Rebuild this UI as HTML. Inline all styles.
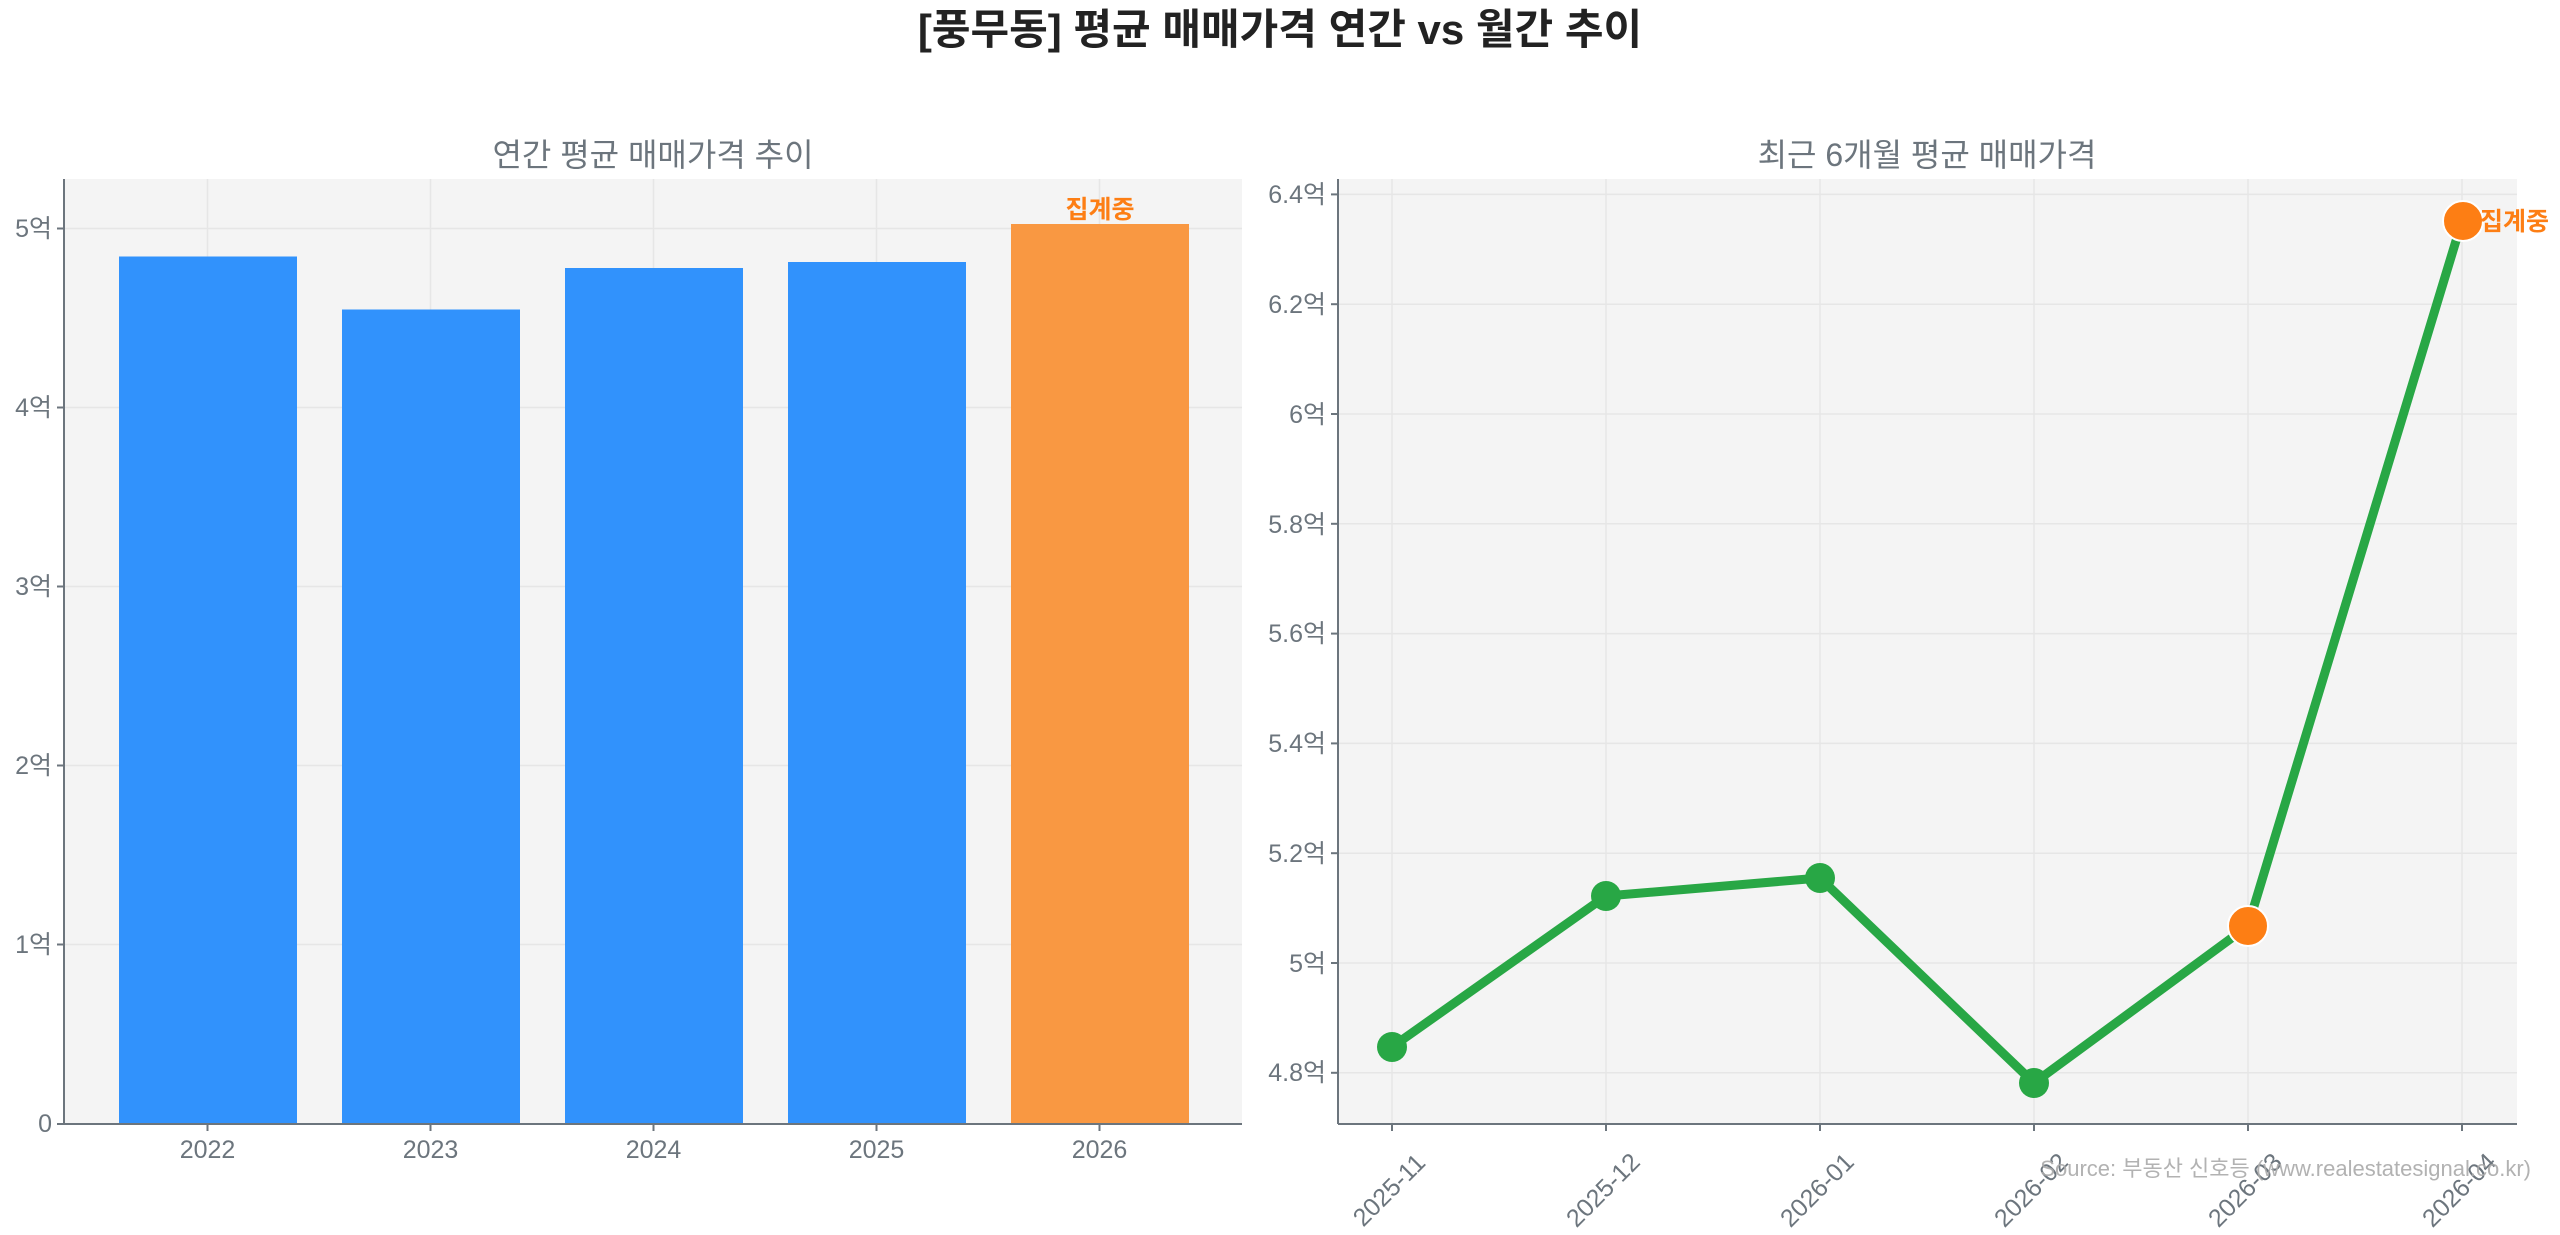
<!DOCTYPE html>
<html><head><meta charset="utf-8"><style>
html,body{margin:0;padding:0;background:#fff;}
svg{display:block;}
text{font-family:"Liberation Sans","Noto Sans CJK KR",sans-serif;}
</style></head><body>
<svg width="2560" height="1235" viewBox="0 0 2560 1235" xmlns="http://www.w3.org/2000/svg">
<text x="1280" y="44" text-anchor="middle" font-size="42" font-weight="bold" fill="#222">[풍무동] 평균 매매가격 연간 vs 월간 추이</text>

<!-- LEFT -->
<text x="653" y="166" text-anchor="middle" font-size="32" fill="#6c757d">연간 평균 매매가격 추이</text>
<rect x="64" y="179" width="1178" height="945" fill="#f4f4f4"/>
<g stroke="#e6e6e6" stroke-width="1.5">
<line x1="64" x2="1242" y1="228.5" y2="228.5"/><line x1="64" x2="1242" y1="407.5" y2="407.5"/>
<line x1="64" x2="1242" y1="586.5" y2="586.5"/><line x1="64" x2="1242" y1="765.5" y2="765.5"/>
<line x1="64" x2="1242" y1="944.5" y2="944.5"/>
<line x1="207.5" x2="207.5" y1="179" y2="1124"/><line x1="430.5" x2="430.5" y1="179" y2="1124"/>
<line x1="653.5" x2="653.5" y1="179" y2="1124"/><line x1="876.5" x2="876.5" y1="179" y2="1124"/>
<line x1="1099.5" x2="1099.5" y1="179" y2="1124"/>
</g>
<g fill="#3192fc">
<rect x="119" y="256.5" width="178" height="867.5"/>
<rect x="342" y="309.5" width="178" height="814.5"/>
<rect x="565" y="268" width="178" height="856"/>
<rect x="788" y="262" width="178" height="862"/>
</g>
<rect x="1011" y="224" width="178" height="900" fill="#f99842"/>
<text x="1100" y="218" text-anchor="middle" font-size="25" font-weight="bold" fill="#fd7e14">집계중</text>
<line x1="64" x2="64" y1="179" y2="1124" stroke="#6c757d" stroke-width="2"/>
<line x1="64" x2="1242" y1="1124" y2="1124" stroke="#6c757d" stroke-width="2"/>
<g fill="#6c757d" font-size="25" text-anchor="end">
<text x="52" y="237">5억</text><text x="52" y="416">4억</text><text x="52" y="595">3억</text>
<text x="52" y="774">2억</text><text x="52" y="953">1억</text><text x="52" y="1132">0</text>
</g>
<g stroke="#6c757d" stroke-width="2">
<line x1="57" x2="64" y1="228.5" y2="228.5"/><line x1="57" x2="64" y1="407.5" y2="407.5"/>
<line x1="57" x2="64" y1="586.5" y2="586.5"/><line x1="57" x2="64" y1="765.5" y2="765.5"/>
<line x1="57" x2="64" y1="944.5" y2="944.5"/><line x1="57" x2="64" y1="1124" y2="1124"/>
<line x1="207.5" x2="207.5" y1="1124" y2="1131"/><line x1="430.5" x2="430.5" y1="1124" y2="1131"/>
<line x1="653.5" x2="653.5" y1="1124" y2="1131"/><line x1="876.5" x2="876.5" y1="1124" y2="1131"/>
<line x1="1099.5" x2="1099.5" y1="1124" y2="1131"/>
</g>
<g fill="#6c757d" font-size="25" text-anchor="middle">
<text x="207.5" y="1158">2022</text><text x="430.5" y="1158">2023</text><text x="653.5" y="1158">2024</text>
<text x="876.5" y="1158">2025</text><text x="1099.5" y="1158">2026</text>
</g>

<!-- RIGHT -->
<text x="1927" y="166" text-anchor="middle" font-size="32" fill="#6c757d">최근 6개월 평균 매매가격</text>
<rect x="1338" y="179" width="1179" height="945" fill="#f4f4f4"/>
<g stroke="#e6e6e6" stroke-width="1.5">
<line x1="1338" x2="2517" y1="194.4" y2="194.4"/><line x1="1338" x2="2517" y1="304.2" y2="304.2"/>
<line x1="1338" x2="2517" y1="414" y2="414"/><line x1="1338" x2="2517" y1="523.8" y2="523.8"/>
<line x1="1338" x2="2517" y1="633.6" y2="633.6"/><line x1="1338" x2="2517" y1="743.4" y2="743.4"/>
<line x1="1338" x2="2517" y1="853.2" y2="853.2"/><line x1="1338" x2="2517" y1="963" y2="963"/>
<line x1="1338" x2="2517" y1="1072.8" y2="1072.8"/>
<line x1="1392" x2="1392" y1="179" y2="1124"/><line x1="1606" x2="1606" y1="179" y2="1124"/>
<line x1="1820" x2="1820" y1="179" y2="1124"/><line x1="2034" x2="2034" y1="179" y2="1124"/>
<line x1="2248" x2="2248" y1="179" y2="1124"/><line x1="2462" x2="2462" y1="179" y2="1124"/>
</g>
<polyline points="1392,1047 1606,896 1820,878 2034,1083 2248,926 2462,221" fill="none" stroke="#28a745" stroke-width="9" stroke-linejoin="round"/>
<g fill="#28a745">
<circle cx="1392" cy="1047" r="15"/><circle cx="1606" cy="896" r="15"/>
<circle cx="1820" cy="878" r="15"/><circle cx="2034" cy="1083" r="15"/>
</g>
<circle cx="2248" cy="926" r="20" fill="#fd7e14" stroke="#fff" stroke-width="2"/>
<circle cx="2463" cy="221" r="20" fill="#fd7e14" stroke="#fff" stroke-width="2"/>
<text x="2480" y="230" font-size="25" font-weight="bold" fill="#fd7e14">집계중</text>
<line x1="1338" x2="1338" y1="179" y2="1124" stroke="#6c757d" stroke-width="2"/>
<line x1="1338" x2="2517" y1="1124" y2="1124" stroke="#6c757d" stroke-width="2"/>
<g fill="#6c757d" font-size="25" text-anchor="end">
<text x="1326" y="203">6.4억</text><text x="1326" y="313">6.2억</text><text x="1326" y="423">6억</text>
<text x="1326" y="533">5.8억</text><text x="1326" y="642">5.6억</text><text x="1326" y="752">5.4억</text>
<text x="1326" y="862">5.2억</text><text x="1326" y="972">5억</text><text x="1326" y="1081">4.8억</text>
</g>
<g stroke="#6c757d" stroke-width="2">
<line x1="1331" x2="1338" y1="194.4" y2="194.4"/><line x1="1331" x2="1338" y1="304.2" y2="304.2"/>
<line x1="1331" x2="1338" y1="414" y2="414"/><line x1="1331" x2="1338" y1="523.8" y2="523.8"/>
<line x1="1331" x2="1338" y1="633.6" y2="633.6"/><line x1="1331" x2="1338" y1="743.4" y2="743.4"/>
<line x1="1331" x2="1338" y1="853.2" y2="853.2"/><line x1="1331" x2="1338" y1="963" y2="963"/>
<line x1="1331" x2="1338" y1="1072.8" y2="1072.8"/>
<line x1="1392" x2="1392" y1="1124" y2="1131"/><line x1="1606" x2="1606" y1="1124" y2="1131"/>
<line x1="1820" x2="1820" y1="1124" y2="1131"/><line x1="2034" x2="2034" y1="1124" y2="1131"/>
<line x1="2248" x2="2248" y1="1124" y2="1131"/><line x1="2462" x2="2462" y1="1124" y2="1131"/>
</g>
<g fill="#6c757d" font-size="25" text-anchor="middle">
<text transform="translate(1395,1196) rotate(-45)">2025-11</text>
<text transform="translate(1609,1196) rotate(-45)">2025-12</text>
<text transform="translate(1823,1196) rotate(-45)">2026-01</text>
<text transform="translate(2037,1196) rotate(-45)">2026-02</text>
<text transform="translate(2251,1196) rotate(-45)">2026-03</text>
<text transform="translate(2465,1196) rotate(-45)">2026-04</text>
</g>
<text x="2531" y="1176" text-anchor="end" font-size="22" fill="#aaaaaa" fill-opacity="0.9">Source: 부동산 신호등 (www.realestatesignal.co.kr)</text>
</svg>
</body></html>
